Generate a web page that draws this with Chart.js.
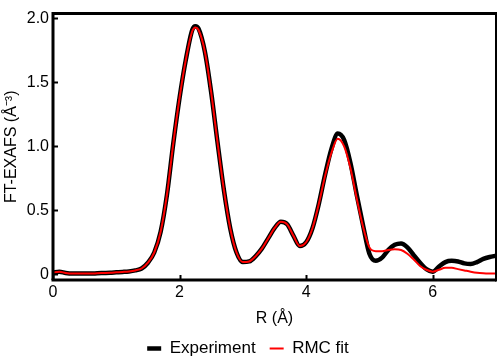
<!DOCTYPE html>
<html>
<head>
<meta charset="utf-8">
<script src="https://cdn.jsdelivr.net/npm/chart.js@4.4.0/dist/chart.umd.min.js"></script>
<style>
  html, body { margin: 0; padding: 0; background: #fff; }
  #wrap { width: 500px; height: 364px; }
</style>
</head>
<body>
<div id="wrap"><canvas id="ftChart"></canvas></div>
<script>
// R (Å) grid
const rValues = [0.0, 0.1, 0.2, 0.3, 0.4, 0.5, 0.6, 0.7, 0.8, 0.9,
  1.0, 1.1, 1.2, 1.3, 1.4, 1.5, 1.6, 1.7, 1.8, 1.9,
  2.0, 2.1, 2.2, 2.25, 2.3, 2.4, 2.5, 2.6, 2.7, 2.8, 2.9,
  3.0, 3.1, 3.2, 3.3, 3.4, 3.5, 3.6, 3.7, 3.8, 3.9,
  4.0, 4.1, 4.2, 4.3, 4.4, 4.5, 4.6, 4.7, 4.8, 4.9,
  5.0, 5.1, 5.2, 5.3, 5.4, 5.5, 5.6, 5.7, 5.8, 5.9,
  6.0, 6.1, 6.2, 6.3, 6.4, 6.5, 6.6, 6.7, 6.8, 6.9, 7.0];

const experiment = [0.012, 0.02, 0.01, 0.005, 0.005, 0.005, 0.005, 0.008, 0.01, 0.012,
  0.015, 0.018, 0.022, 0.03, 0.045, 0.09, 0.17, 0.33, 0.62, 1.02,
  1.38, 1.68, 1.91, 1.94, 1.92, 1.74, 1.42, 1.03, 0.66, 0.36, 0.17,
  0.095, 0.10, 0.14, 0.20, 0.28, 0.36, 0.41, 0.39, 0.30, 0.22,
  0.25, 0.36, 0.55, 0.78, 0.98, 1.10, 1.05, 0.87, 0.62, 0.38,
  0.16, 0.105, 0.13, 0.19, 0.23, 0.24, 0.21, 0.15, 0.09, 0.04,
  0.02, 0.06, 0.095, 0.105, 0.10, 0.085, 0.08, 0.095, 0.12, 0.135, 0.145];

const rmcFit = [0.012, 0.02, 0.01, 0.005, 0.005, 0.005, 0.005, 0.008, 0.01, 0.012,
  0.015, 0.018, 0.022, 0.03, 0.045, 0.09, 0.17, 0.33, 0.62, 1.02,
  1.38, 1.68, 1.90, 1.93, 1.91, 1.74, 1.42, 1.03, 0.66, 0.36, 0.17,
  0.095, 0.10, 0.14, 0.20, 0.28, 0.36, 0.41, 0.39, 0.30, 0.22,
  0.25, 0.36, 0.55, 0.77, 0.95, 1.06, 1.00, 0.83, 0.59, 0.37,
  0.21, 0.18, 0.18, 0.19, 0.195, 0.19, 0.16, 0.115, 0.065, 0.035,
  0.02, 0.035, 0.05, 0.05, 0.04, 0.03, 0.02, 0.012, 0.008, 0.006, 0.005];

const xTicks = [0, 2, 4, 6];
const yTicks = [0, 0.5, 1.0, 1.5, 2.0];

function toPoints(ys) {
  return rValues.map((r, i) => ({ x: r, y: ys[i] }));
}

// cadre + graduations vers l'intérieur
const framePlugin = {
  id: 'frame',
  afterDraw(chart) {
    const ctx = chart.ctx;
    const a = chart.chartArea;
    const xs = chart.scales.x, ys = chart.scales.y;
    ctx.save();
    ctx.strokeStyle = '#000';
    ctx.lineWidth = 2;
    xs.ticks.forEach(t => {
      const px = Math.round(xs.getPixelForValue(t.value)) + 0.5;
      ctx.beginPath(); ctx.moveTo(px, a.bottom); ctx.lineTo(px, a.bottom - 5); ctx.stroke();
    });
    ys.ticks.forEach(t => {
      const py = Math.round(ys.getPixelForValue(t.value)) + 0.5;
      ctx.beginPath(); ctx.moveTo(a.left, py); ctx.lineTo(a.left + 5, py); ctx.stroke();
    });
    ctx.lineWidth = 3;
    ctx.beginPath();
    ctx.moveTo(a.left, a.bottom); ctx.lineTo(a.left, a.top);
    ctx.lineTo(a.right, a.top);
    ctx.stroke();
    ctx.beginPath();
    ctx.moveTo(a.left - 1.5, a.bottom); ctx.lineTo(a.right, a.bottom);
    ctx.stroke();
    ctx.lineWidth = 2;
    ctx.beginPath();
    ctx.moveTo(a.right, a.top - 1.5); ctx.lineTo(a.right, a.bottom + 1.5);
    ctx.stroke();
    ctx.restore();
  }
};

Chart.defaults.font.family = '"Liberation Sans", Arial, sans-serif';
Chart.defaults.color = '#000';

new Chart(document.getElementById('ftChart').getContext('2d'), {
  type: 'line',
  data: {
    datasets: [
      {
        label: 'Experiment',
        data: toPoints(experiment),
        borderColor: '#000',
        backgroundColor: '#000',
        borderWidth: 4.5,
        pointRadius: 0,
        cubicInterpolationMode: 'monotone',
        order: 2
      },
      {
        label: 'RMC fit',
        data: toPoints(rmcFit),
        borderColor: '#ff0000',
        backgroundColor: '#ff0000',
        borderWidth: 2,
        pointRadius: 0,
        cubicInterpolationMode: 'monotone',
        order: 1
      }
    ]
  },
  options: {
    responsive: true,
    maintainAspectRatio: false,
    animation: false,
    layout: { padding: { top: 5, right: 4, left: 0, bottom: -3 } },
    plugins: {
      legend: {
        position: 'bottom',
        labels: {
          usePointStyle: true,
          pointStyle: 'line',
          pointStyleWidth: 14,
          padding: 14,
          color: '#000',
          font: { size: 17 },
          sort: function(a, b) { return a.datasetIndex - b.datasetIndex; }
        }
      },
      tooltip: { enabled: false }
    },
    scales: {
      x: {
        type: 'linear',
        min: 0,
        max: 7,
        afterBuildTicks: function(scale) {
          scale.ticks = xTicks.map(v => ({ value: v }));
        },
        afterFit: function(scale) { scale.height = 46; },
        grid: { display: false, drawTicks: false },
        border: { display: false },
        ticks: { padding: 3, font: { size: 16 }, color: '#000' },
        title: { display: true, text: 'R (Å)', font: { size: 16 }, color: '#000', padding: { top: 0, bottom: -2 } }
      },
      y: {
        min: -0.045,
        max: 2.038,
        afterBuildTicks: function(scale) {
          scale.ticks = yTicks.map(v => ({ value: v }));
        },
        afterFit: function(scale) { scale.width = 53; },
        grid: { display: false, drawTicks: false },
        border: { display: false },
        ticks: {
          padding: 4,
          font: { size: 16 },
          color: '#000',
          callback: function(value) {
            return value === 0 ? '0' : value.toFixed(1);
          }
        },
        title: { display: true, text: 'FT-EXAFS (Å⁻³)', font: { size: 16 }, color: '#000', padding: { top: 2, bottom: 0 } }
      }
    }
  },
  plugins: [framePlugin]
});
</script>
</body>
</html>
